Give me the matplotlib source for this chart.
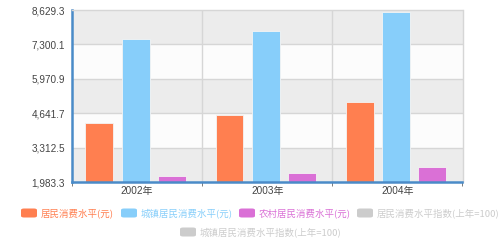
import matplotlib
matplotlib.use("Agg")
import matplotlib.pyplot as plt
from matplotlib.patches import FancyBboxPatch
import numpy as np

plt.rcParams['font.family'] = ['Liberation Sans', 'Noto Sans CJK SC', 'DejaVu Sans']

categories = ['2002年', '2003年', '2004年']
series_names = ['居民消费水平(元)', '城镇居民消费水平(元)', '农村居民消费水平(元)',
                '居民消费水平指数(上年=100)', '城镇居民消费水平指数(上年=100)']
resident = [4282, 4553, 5079]
urban = [7505, 7815, 8562]
rural = [2203, 2347, 2564]
yticks = [1983.3, 3312.5, 4641.7, 5970.9, 7300.1, 8629.3]

colors = ['#ff7f50', '#87cefa', '#da70d6', '#cccccc', '#cccccc']

W, H = 500, 247
fig = plt.figure(figsize=(W/100, H/100), dpi=100)
ax = fig.add_axes([72/W, 1-182/H, (462.5-72)/W, (182-10)/H])

ymin, ymax = yticks[0], yticks[-1]
ax.set_ylim(ymin, ymax)
ax.set_xlim(-0.5, len(categories)-0.5)

# alternating bands
for i in range(len(yticks)-1):
    fc = '#ececec' if (len(yticks)-2-i) % 2 == 0 else '#fcfcfc'
    ax.axhspan(yticks[i], yticks[i+1], color=fc, zorder=0, lw=0)
for y in yticks[1:-1]:
    ax.axhline(y, color='#d6d6d6', lw=1, zorder=1)
for xb in [0.5, 1.5]:
    ax.axvline(xb, color='#d6d6d6', lw=1, zorder=1)

x = np.arange(len(categories))
bw = 0.215
offsets = [-0.29, -0.012, 0.265]
for vals, off, c in zip([resident, urban, rural], offsets, colors[:3]):
    ax.bar(x + off, np.array(vals) - ymin, bottom=ymin, width=bw, color=c,
           edgecolor='#f4f4f4', linewidth=0.6, zorder=2)

ax.set_yticks(yticks)
ax.set_yticklabels([f'{v:,.1f}' for v in yticks], fontsize=7.2, color='#444444')
ax.set_xticks(x)
ax.set_xticklabels(categories, fontsize=7.2, color='#444444')
ax.tick_params(axis='y', length=0, pad=5)
ax.tick_params(axis='x', length=0, pad=3)
ax.set_xticks([-0.5, 0.5, 1.5, 2.5], minor=True)
ax.tick_params(axis='x', which='minor', length=3, color='#666666', direction='out')

for s in ['left', 'bottom']:
    ax.spines[s].set_color('#4a8bc8')
    ax.spines[s].set_linewidth(1.8)
for s in ['top', 'right']:
    ax.spines[s].set_color('#d6d6d6')
    ax.spines[s].set_linewidth(1)

# legend
legend_items = [
    (21, 213, 0), (121, 213, 1), (239, 213, 2), (357, 213, 3), (180, 232, 4)
]
for px, py, i in legend_items:
    c = colors[i]
    box = FancyBboxPatch((px/W, 1-(py+4.5)/H), 16/W, 9/H,
                         boxstyle='round,pad=0,rounding_size=0.006',
                         transform=fig.transFigure, facecolor=c, edgecolor='none')
    fig.patches.append(box)
    fig.text((px+20)/W, 1-py/H, series_names[i], fontsize=6.8, color=c,
             va='center', ha='left', family=['Noto Sans CJK SC', 'DejaVu Sans'])

fig.savefig('out.png', dpi=100)
